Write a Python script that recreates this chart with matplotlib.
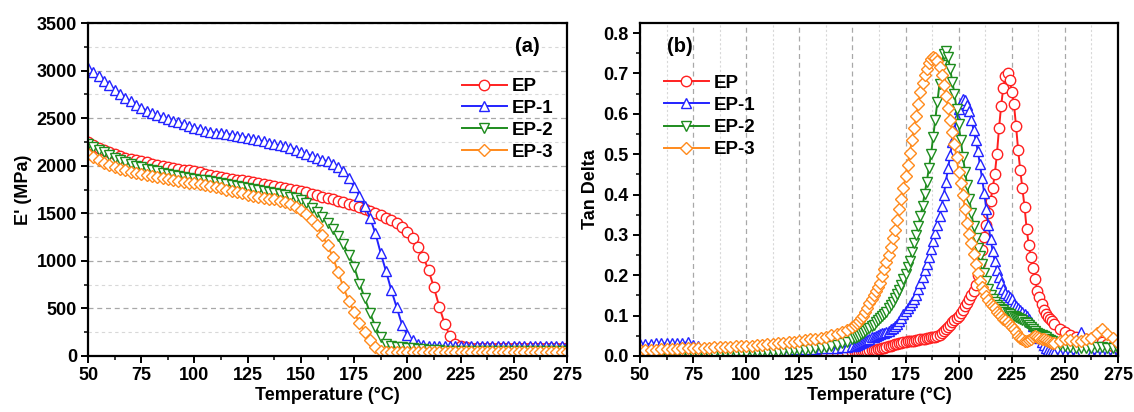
import numpy as np
import matplotlib
matplotlib.use("Agg")
import matplotlib.pyplot as plt
from matplotlib.ticker import MultipleLocator

plt.rcParams['font.family'] = ['Liberation Sans', 'DejaVu Sans']
plt.rcParams['font.weight'] = 'bold'
plt.rcParams['axes.labelweight'] = 'bold'

LABELS = ["EP", "EP-1", "EP-2", "EP-3"]
COLORS = ["#ff2020", "#2323ff", "#1e8c1e", "#ff8a1c"]
MARKERS = ["o", "^", "v", "D"]

# (a) storage modulus, sampled every 2.5 C from 50 to 275
T_A = np.arange(50, 275.1, 2.5)

EP_A = [2250, 2220, 2190, 2165, 2140, 2120, 2100, 2085, 2070, 2060,
        2050, 2035, 2020, 2005, 1995, 1985, 1975, 1965, 1960, 1950,
        1940, 1930, 1915, 1900, 1890, 1880, 1870, 1860, 1850, 1845,
        1835, 1825, 1815, 1805, 1795, 1785, 1775, 1765, 1755, 1745,
        1735, 1720, 1705, 1690, 1675, 1660, 1645, 1630, 1615, 1600,
        1585, 1565, 1545, 1525, 1505, 1480, 1455, 1425, 1395, 1355,
        1305, 1240, 1150, 1040, 900, 720, 520, 340, 210, 130,
        100, 90, 88, 86, 85, 85, 85, 84, 84, 84,
        84, 84, 84, 84, 83, 83, 83, 83, 83, 83,
        83]
EP1_A = [3030, 2990, 2940, 2890, 2850, 2800, 2750, 2710, 2680, 2640,
         2610, 2580, 2555, 2530, 2510, 2490, 2475, 2455, 2435, 2420,
         2400, 2385, 2370, 2355, 2345, 2340, 2335, 2325, 2315, 2305,
         2295, 2280, 2270, 2255, 2240, 2225, 2215, 2205, 2190, 2170,
         2145, 2125, 2105, 2085, 2065, 2045, 2020, 1990, 1940, 1870,
         1780, 1685, 1580, 1450, 1290, 1080, 890, 690, 510, 330,
         220, 165, 130, 112, 105, 102, 101, 100, 100, 100,
         100, 100, 100, 100, 100, 100, 100, 100, 100, 100,
         100, 100, 100, 100, 100, 100, 100, 100, 100, 100,
         100]
EP2_A = [2230, 2200, 2170, 2140, 2110, 2085, 2060, 2040, 2020, 2000,
         1985, 1970, 1955, 1940, 1925, 1915, 1905, 1895, 1885, 1875,
         1865, 1855, 1845, 1835, 1825, 1815, 1805, 1795, 1785, 1775,
         1765, 1755, 1745, 1735, 1725, 1715, 1705, 1690, 1675, 1660,
         1640, 1610, 1560, 1510, 1460, 1400, 1330, 1260, 1175, 1060,
         940, 760, 610, 450, 310, 200, 130, 105, 95, 90,
         85, 80, 75, 70, 65, 60, 58, 56, 55, 55,
         55, 55, 55, 55, 55, 55, 55, 55, 55, 55,
         55, 55, 55, 55, 55, 55, 55, 55, 55, 55,
         55]
EP3_A = [2120, 2090, 2060, 2030, 2005, 1985, 1965, 1950, 1935, 1925,
         1915, 1900, 1890, 1880, 1870, 1860, 1850, 1840, 1830, 1820,
         1815, 1805, 1795, 1785, 1775, 1762, 1750, 1735, 1720, 1708,
         1695, 1685, 1675, 1665, 1655, 1645, 1630, 1615, 1595, 1570,
         1535, 1490, 1430, 1375, 1270, 1165, 1040, 880, 720, 580,
         460, 350, 250, 165, 90, 50, 45, 45, 45, 45,
         45, 45, 45, 45, 45, 45, 45, 45, 45, 45,
         45, 45, 45, 45, 45, 45, 45, 45, 45, 45,
         45, 45, 45, 45, 45, 45, 45, 45, 45, 45,
         45]

# (b) tan delta: 2.5 C steps, 1 C steps across the peaks, 2.5 C steps at the end
T_B = np.concatenate([np.arange(50, 150, 2.5),
                      np.arange(150, 246, 1.0),
                      np.arange(247.5, 275.1, 2.5)])

EP_B = [0.005, 0.005, 0.005, 0.005, 0.005, 0.005, 0.005, 0.005, 0.005, 0.005,
        0.005, 0.005, 0.005, 0.005, 0.005, 0.005, 0.005, 0.005, 0.005, 0.005,
        0.005, 0.005, 0.005, 0.006, 0.006, 0.006, 0.006, 0.006, 0.007, 0.007,
        0.007, 0.007, 0.007, 0.008, 0.008, 0.008, 0.009, 0.009, 0.009, 0.010,
        # 150-245 every 1 C
        0.010, 0.010, 0.011, 0.011, 0.012, 0.012, 0.013, 0.013, 0.014, 0.014,
        0.015, 0.016, 0.017, 0.018, 0.019, 0.020, 0.022, 0.024, 0.026, 0.027,
        0.029, 0.030, 0.031, 0.032, 0.034, 0.035, 0.036, 0.037, 0.038, 0.038,
        0.039, 0.040, 0.041, 0.042, 0.043, 0.044, 0.045, 0.046, 0.047, 0.048,
        0.050, 0.053, 0.057, 0.062, 0.067, 0.072, 0.077, 0.083, 0.088, 0.094,
        0.100, 0.107, 0.115, 0.123, 0.132, 0.140, 0.150, 0.162, 0.177, 0.200,
        0.230, 0.262, 0.295, 0.325, 0.355, 0.385, 0.415, 0.450, 0.500, 0.565,
        0.620, 0.665, 0.693, 0.700, 0.685, 0.655, 0.625, 0.570, 0.510, 0.460,
        0.415, 0.370, 0.315, 0.275, 0.245, 0.218, 0.190, 0.162, 0.145, 0.130,
        0.115, 0.105, 0.097, 0.092, 0.086, 0.080,
        # 247.5-275
        0.068, 0.060, 0.052, 0.048, 0.045, 0.043, 0.042, 0.040, 0.035, 0.030,
        0.025, 0.020]
EP1_B = [0.030, 0.030, 0.030, 0.031, 0.031, 0.031, 0.032, 0.032, 0.032, 0.034,
         0.028, 0.024, 0.020, 0.017, 0.015, 0.014, 0.013, 0.013, 0.013, 0.013,
         0.013, 0.013, 0.014, 0.014, 0.014, 0.015, 0.015, 0.016, 0.016, 0.017,
         0.017, 0.017, 0.018, 0.018, 0.019, 0.019, 0.020, 0.021, 0.022, 0.023,
         0.024, 0.026, 0.028, 0.030, 0.032, 0.034, 0.037, 0.040, 0.043, 0.046,
         0.048, 0.050, 0.052, 0.054, 0.056, 0.058, 0.060, 0.063, 0.066, 0.069,
         0.074, 0.080, 0.087, 0.095, 0.103, 0.111, 0.118, 0.126, 0.134, 0.142,
         0.152, 0.165, 0.180, 0.196, 0.212, 0.228, 0.245, 0.265, 0.285, 0.305,
         0.325, 0.348, 0.372, 0.400, 0.432, 0.465, 0.497, 0.530, 0.560, 0.590,
         0.612, 0.627, 0.636, 0.633, 0.622, 0.606, 0.585, 0.560, 0.535, 0.508,
         0.475, 0.440, 0.405, 0.365, 0.325, 0.290, 0.260, 0.235, 0.212, 0.195,
         0.180, 0.167, 0.157, 0.150, 0.145, 0.140, 0.130, 0.124, 0.119, 0.114,
         0.110, 0.105, 0.100, 0.092, 0.083, 0.075, 0.065, 0.055, 0.045, 0.035,
         0.027, 0.021, 0.016, 0.012, 0.009, 0.007,
         0.005, 0.004, 0.004, 0.005, 0.060, 0.030, 0.006, 0.005, 0.004, 0.004,
         0.004, 0.003]
EP2_B = [0.004, 0.004, 0.004, 0.004, 0.004, 0.004, 0.005, 0.005, 0.005, 0.005,
         0.005, 0.005, 0.006, 0.006, 0.006, 0.007, 0.007, 0.007, 0.008, 0.008,
         0.008, 0.009, 0.009, 0.010, 0.010, 0.011, 0.011, 0.012, 0.013, 0.014,
         0.015, 0.016, 0.017, 0.019, 0.021, 0.023, 0.025, 0.028, 0.031, 0.035,
         0.041, 0.044, 0.047, 0.050, 0.054, 0.058, 0.062, 0.066, 0.070, 0.074,
         0.078, 0.083, 0.088, 0.093, 0.098, 0.104, 0.110, 0.118, 0.126, 0.134,
         0.143, 0.153, 0.164, 0.177, 0.190, 0.204, 0.220, 0.236, 0.257, 0.279,
         0.300, 0.321, 0.346, 0.372, 0.402, 0.432, 0.466, 0.500, 0.543, 0.585,
         0.630, 0.675, 0.721, 0.748, 0.755, 0.742, 0.710, 0.680, 0.650, 0.612,
         0.574, 0.534, 0.494, 0.457, 0.423, 0.390, 0.355, 0.321, 0.292, 0.267,
         0.247, 0.228, 0.205, 0.185, 0.167, 0.151, 0.141, 0.133, 0.126, 0.121,
         0.116, 0.113, 0.110, 0.107, 0.104, 0.100, 0.098, 0.096, 0.094, 0.091,
         0.088, 0.085, 0.081, 0.077, 0.071, 0.066, 0.062, 0.058, 0.054, 0.051,
         0.049, 0.046, 0.043, 0.040, 0.036, 0.032,
         0.028, 0.024, 0.022, 0.021, 0.020, 0.020, 0.021, 0.022, 0.022, 0.021,
         0.020, 0.018]
EP3_B = [0.015, 0.015, 0.016, 0.016, 0.017, 0.017, 0.018, 0.018, 0.019, 0.019,
         0.020, 0.020, 0.021, 0.021, 0.022, 0.022, 0.023, 0.023, 0.024, 0.024,
         0.025, 0.026, 0.027, 0.028, 0.029, 0.030, 0.031, 0.032, 0.034, 0.035,
         0.037, 0.039, 0.041, 0.043, 0.045, 0.048, 0.051, 0.055, 0.059, 0.065,
         0.071, 0.076, 0.081, 0.087, 0.093, 0.100, 0.110, 0.120, 0.131, 0.140,
         0.150, 0.160, 0.170, 0.182, 0.198, 0.215, 0.232, 0.250, 0.270, 0.292,
         0.313, 0.338, 0.364, 0.390, 0.415, 0.445, 0.474, 0.504, 0.534, 0.564,
         0.594, 0.624, 0.653, 0.676, 0.696, 0.712, 0.725, 0.735, 0.742, 0.738,
         0.730, 0.715, 0.696, 0.672, 0.645, 0.615, 0.585, 0.555, 0.526, 0.492,
         0.457, 0.428, 0.398, 0.364, 0.330, 0.303, 0.279, 0.253, 0.228, 0.206,
         0.185, 0.172, 0.160, 0.149, 0.139, 0.130, 0.124, 0.118, 0.109, 0.104,
         0.098, 0.092, 0.088, 0.083, 0.078, 0.071, 0.066, 0.060, 0.049, 0.045,
         0.041, 0.038, 0.037, 0.039, 0.043, 0.047, 0.049, 0.047, 0.044, 0.042,
         0.041, 0.039, 0.037, 0.035, 0.033, 0.032,
         0.036, 0.041, 0.039, 0.037, 0.038, 0.041, 0.045, 0.058, 0.066, 0.054,
         0.045, 0.032]


def style_axes(ax):
    for sp in ax.spines.values():
        sp.set_linewidth(1.6)
    ax.tick_params(which='major', direction='out', length=5, width=1.4,
                   labelsize=13, pad=3)
    ax.tick_params(which='minor', direction='out', length=3, width=1.1)
    for lab in ax.get_xticklabels() + ax.get_yticklabels():
        lab.set_fontweight('bold')
    ax.set_xlim(50, 275)
    ax.xaxis.set_major_locator(MultipleLocator(25))
    ax.xaxis.set_minor_locator(MultipleLocator(12.5))
    ax.set_xlabel("Temperature (°C)", fontsize=13, fontweight='bold', labelpad=2)


def plot_series(ax, x, ys):
    for y, lab, c, m in zip(ys, LABELS, COLORS, MARKERS):
        ms = 7.5 if m != "D" else 6.6
        ax.plot(x, y, color=c, lw=1.4, marker=m, ms=ms, mfc='white',
                mec=c, mew=1.0, label=lab)


fig = plt.figure(figsize=(11.34, 4.12), dpi=100)
ax_a = fig.add_axes([88 / 1134, 56 / 412, 479 / 1134, 333 / 412])
ax_b = fig.add_axes([640 / 1134, 56 / 412, 478 / 1134, 333 / 412])

# panel (a)
ax_a.set_axisbelow(True)
ax_a.set_ylim(0, 3500)
ax_a.yaxis.set_major_locator(MultipleLocator(500))
ax_a.yaxis.set_minor_locator(MultipleLocator(250))
ax_a.grid(axis='y', which='major', color='#a8a8a8', ls=(0, (4, 3)), lw=0.9)
ax_a.grid(axis='y', which='minor', color='#d8d8d8', ls=(0, (3, 3)), lw=0.8)
plot_series(ax_a, T_A, [EP_A, EP1_A, EP2_A, EP3_A])
style_axes(ax_a)
ax_a.set_ylabel("E' (MPa)", fontsize=13, fontweight='bold', labelpad=3)
ax_a.text(0.918, 0.93, "(a)", transform=ax_a.transAxes, fontsize=14.5,
          fontweight='bold', ha='center', va='center')
ax_a.legend(loc='upper left', bbox_to_anchor=(0.78, 0.835), frameon=False,
            numpoints=1, handlelength=2.4, handletextpad=0.25,
            labelspacing=0.25, borderpad=0, borderaxespad=0,
            prop={'size': 13.5, 'weight': 'bold'})

# panel (b)
ax_b.set_axisbelow(True)
ax_b.set_ylim(0, 0.825)
ax_b.yaxis.set_major_locator(MultipleLocator(0.1))
ax_b.yaxis.set_minor_locator(MultipleLocator(0.05))
ax_b.grid(axis='x', which='major', color='#a8a8a8', ls=(0, (4, 3)), lw=0.9)
ax_b.grid(axis='x', which='minor', color='#d8d8d8', ls=(0, (2, 2)), lw=0.8)
plot_series(ax_b, T_B, [EP_B, EP1_B, EP2_B, EP3_B])
style_axes(ax_b)
ax_b.yaxis.set_major_formatter(plt.FuncFormatter(lambda v, p: f"{v:.1f}"))
ax_b.set_ylabel("Tan Delta", fontsize=13, fontweight='bold', labelpad=3)
ax_b.text(0.084, 0.93, "(b)", transform=ax_b.transAxes, fontsize=14.5,
          fontweight='bold', ha='center', va='center')
ax_b.legend(loc='upper left', bbox_to_anchor=(0.05, 0.845), frameon=False,
            numpoints=1, handlelength=2.4, handletextpad=0.25,
            labelspacing=0.27, borderpad=0, borderaxespad=0,
            prop={'size': 13.5, 'weight': 'bold'})

fig.savefig("out.png", dpi=100)
